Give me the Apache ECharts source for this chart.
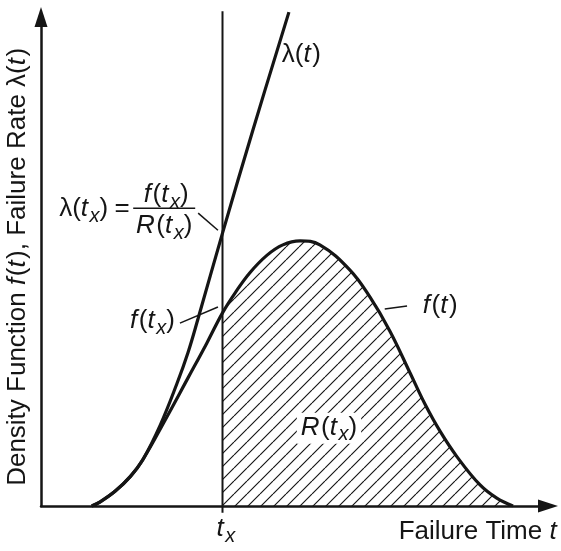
<!DOCTYPE html>
<html>
<head>
<meta charset="utf-8">
<script src="https://cdn.jsdelivr.net/npm/echarts@6/dist/echarts.min.js"></script>
<style>
  html, body { margin: 0; padding: 0; background: #fff; }
  #chart { width: 561px; height: 551px; }
</style>
</head>
<body>
<div id="chart"></div>
<script>
// Failure time t (arbitrary units) and the density function f(t)
const tValues       = [1.00, 1.16, 1.46, 1.76, 2.01, 2.45, 2.90, 3.27, 3.58, 3.83, 4.12, 4.46, 4.77, 5.11, 5.50, 6.09, 6.49, 6.88, 7.28, 7.57, 7.87, 8.21, 8.66, 8.99, 9.31];
const densityValues = [0.00, 0.08, 0.30, 0.60, 0.95, 1.76, 2.62, 3.33, 3.95, 4.36, 4.77, 5.13, 5.34, 5.42, 5.34, 4.83, 4.27, 3.58, 2.72, 2.09, 1.53, 1.00, 0.43, 0.16, 0.00];

// Failure rate lambda(t): follows f(t) early on, then climbs steeply
const rateT      = [1.00, 1.16, 1.46, 1.76, 2.01, 2.35, 2.68, 2.90, 3.10, 3.58, 4.18, 4.89];
const rateValues = [0.00, 0.08, 0.30, 0.60, 0.95, 1.65, 2.50, 3.14, 3.84, 5.58, 7.69, 10.10];

// The chosen time t_x
const tx = 3.58;
const txLineSpan = [-0.14, 10.12];

const pairs = (xs, ys) => xs.map((x, i) => [x, ys[i]]);
const density = pairs(tValues, densityValues);
const rate = pairs(rateT, rateValues);
const tail = density.filter(p => p[0] >= tx);   // area R(t_x) under f(t) beyond t_x

const INK = '#151515';
const FONT = '"Liberation Sans", Arial, Helvetica, sans-serif';
const MAIN = 26, SUB = 20;
const SMOOTH = 0.4;

// diagonal hatching tile
function hatchTile() {
  const s = 13;
  const c = document.createElement('canvas');
  c.width = s; c.height = s;
  const g = c.getContext('2d');
  g.strokeStyle = INK;
  g.lineWidth = 1.15;
  g.beginPath();
  for (const o of [-s, 0, s]) { g.moveTo(o, s); g.lineTo(o + s, 0); }
  g.stroke();
  return c;
}

const chart = echarts.init(document.getElementById('chart'), null, { renderer: 'canvas' });

const axisLine = {
  show: true,
  symbol: ['none', 'triangle'],
  symbolSize: [13, 20],
  lineStyle: { color: INK, width: 2.5 }
};

chart.setOption({
  animation: false,
  backgroundColor: '#fff',
  grid: { left: 41, right: 13, top: 17, bottom: 45, containLabel: false, outerBoundsMode: 'none' },
  xAxis: {
    type: 'value', min: 0, max: 10,
    axisLine, axisTick: { show: false }, axisLabel: { show: false }, splitLine: { show: false }
  },
  yAxis: {
    type: 'value', min: 0, max: 10,
    axisLine, axisTick: { show: false }, axisLabel: { show: false }, splitLine: { show: false }
  },
  series: [
    {
      type: 'line', data: tail, smooth: SMOOTH, symbol: 'none', z: 1,
      lineStyle: { opacity: 0 },
      areaStyle: { color: { image: hatchTile(), repeat: 'repeat' }, opacity: 1 }
    },
    {
      type: 'line', data: [[tx, txLineSpan[0]], [tx, txLineSpan[1]]], symbol: 'none', clip: false, z: 2,
      lineStyle: { color: INK, width: 2 }
    },
    {
      type: 'line', data: density, smooth: SMOOTH, symbol: 'none', z: 3,
      lineStyle: { color: INK, width: 3.2 }
    },
    {
      type: 'line', data: rate, smooth: SMOOTH, symbol: 'none', clip: false, z: 3,
      lineStyle: { color: INK, width: 3.2 }
    }
  ]
});

// ---- annotations -------------------------------------------------------
const mctx = document.createElement('canvas').getContext('2d');
const fontOf = p => (p.it ? 'italic ' : '') + (p.sub ? SUB : MAIN) + 'px ' + FONT;
const widthOf = p => { mctx.font = fontOf(p); return mctx.measureText(p.t).width; };
const N = t => ({ t });
const I = t => ({ t, it: true });
const S = t => ({ t, it: true, sub: true });

function rowWidth(pieces) {
  return pieces.reduce((s, p) => s + widthOf(p) + (p.it && !p.sub ? 1.5 : 0), 0);
}
// lay a run of mixed-style text out horizontally; y is the middle of the main line
function row(pieces, x, y, align) {
  const total = rowWidth(pieces);
  let cx = align === 'left' ? x : align === 'right' ? x - total : x - total / 2;
  const out = [];
  for (const p of pieces) {
    out.push({
      type: 'text', x: cx, y: y + (p.sub ? 7 : 0), z: 60,
      style: { text: p.t, font: fontOf(p), fill: INK, align: 'left', verticalAlign: 'middle' }
    });
    cx += widthOf(p) + (p.it && !p.sub ? 1.5 : 0);
  }
  return out;
}
const px = (x, y) => chart.convertToPixel('grid', [x, y]);
function leader(a, b) {
  const p = px(a[0], a[1]), q = px(b[0], b[1]);
  return { type: 'line', z: 60, shape: { x1: p[0], y1: p[1], x2: q[0], y2: q[1] }, style: { stroke: INK, lineWidth: 1.5 } };
}

const g = [];

// lambda(t) next to the rising rate curve
let a = px(4.75, 9.22);
g.push(...row([N('λ'), N('('), I('t'), N(')')], a[0], a[1], 'left'));

// f(t) on the falling side
a = px(7.53, 4.09);
g.push(...row([I('f'), N('('), I('t'), N(')')], a[0], a[1], 'left'));
g.push(leader([6.78, 4.03], [7.22, 4.09]));

// f(t_x)
a = px(2.64, 3.78);
g.push(...row([I('f'), N('('), I('t'), S('x'), N(')')], a[0], a[1], 'right'));
g.push(leader([2.74, 3.74], [3.49, 4.07]));

// R(t_x) on a white patch inside the hatching
a = px(5.68, 1.60);
const rPieces = [I('R'), N('('), I('t'), S('x'), N(')')];
const rw = rowWidth(rPieces);
g.push({ type: 'rect', z: 55, shape: { x: a[0] - rw / 2 - 4, y: a[1] - 15, width: rw + 8, height: 31 }, style: { fill: '#fff' } });
g.push(...row(rPieces, a[0], a[1], 'center'));

// lambda(t_x) = f(t_x) / R(t_x)
a = px(2.43, 6.09);
g.push(...row([N('λ'), N('('), I('t'), S('x'), N(')')], a[0] - 56, a[1] + 1, 'right'));
g.push(...row([N('=')], a[0] - 42, a[1] + 1, 'center'));
g.push({ type: 'line', z: 60, shape: { x1: a[0] - 31, y1: a[1], x2: a[0] + 31, y2: a[1] }, style: { stroke: INK, lineWidth: 1.5 } });
g.push(...row([I('f'), N('('), I('t'), S('x'), N(')')], a[0] + 2, a[1] - 13, 'center'));
g.push(...row([I('R'), N('('), I('t'), S('x'), N(')')], a[0], a[1] + 18, 'center'));
g.push(leader([3.10, 5.99], [3.49, 5.64]));

// t_x under the axis
a = px(tx, -0.47);
g.push(...row([I('t'), S('x')], a[0] - 6, a[1], 'left'));

// axis titles
a = px(10.2, -0.53);
g.push(...row([N('Failure Time '), I('t')], a[0], a[1], 'right'));

a = px(-0.45, 4.89);
g.push({
  type: 'group', x: a[0], y: a[1], rotation: Math.PI / 2,
  children: row([N('Density Function '), I('f'), N('('), I('t'), N('), Failure Rate λ('), I('t'), N(')')], 0, 0, 'center')
});

chart.setOption({ graphic: g });
</script>
</body>
</html>
